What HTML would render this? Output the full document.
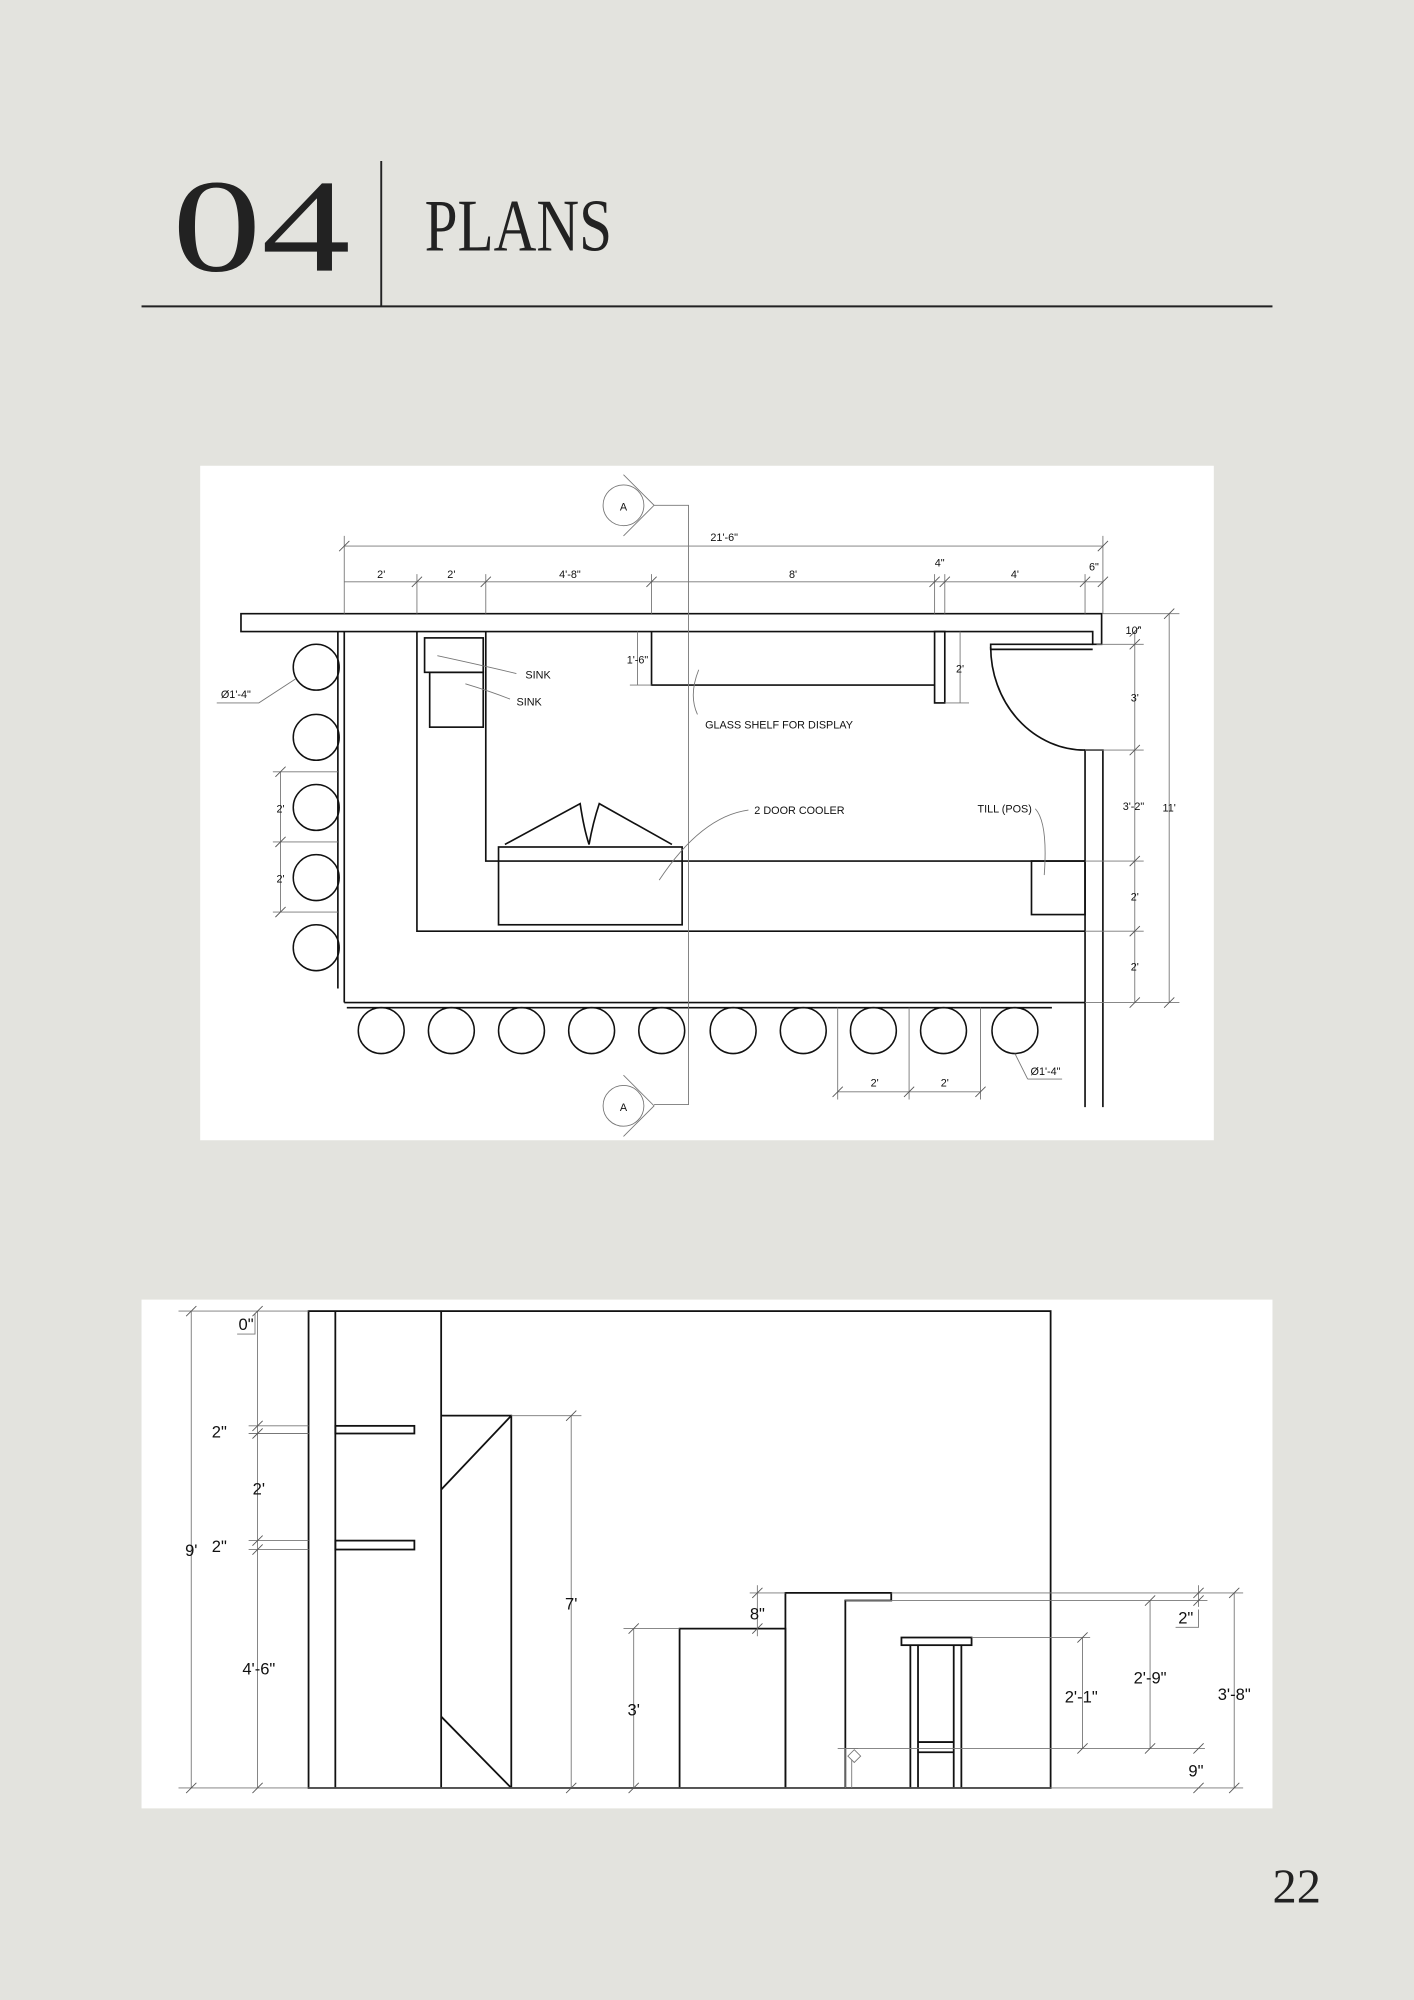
<!DOCTYPE html>
<html><head><meta charset="utf-8"><style>
html,body{margin:0;padding:0;background:#e3e3de;}
svg{display:block}
</style></head><body>
<svg width="1414" height="2000" viewBox="0 0 1109 1568" xmlns="http://www.w3.org/2000/svg" font-family="Liberation Sans, sans-serif">
<rect width="1109" height="1568" fill="#e3e3de"/>
<!-- header -->
<text x="135" y="212" font-family="Liberation Serif, serif" font-size="104" fill="#222" textLength="140" lengthAdjust="spacingAndGlyphs">04</text>
<line x1="299" y1="126" x2="299" y2="240" stroke="#222" stroke-width="1.5"/>
<line x1="111" y1="240" x2="998" y2="240" stroke="#222" stroke-width="1.5"/>
<text x="333" y="196" font-family="Liberation Serif, serif" font-size="58" fill="#222" textLength="147" lengthAdjust="spacingAndGlyphs">PLANS</text>
<text x="998" y="1492" font-family="Liberation Serif, serif" font-size="38" fill="#222">22</text>

<!-- plan panel -->
<rect x="157" y="365" width="795" height="529" fill="#fff"/>
<g stroke="#111" stroke-width="1.3" fill="none">
<path d="M189 481 H864 V505 H857 V495 H189 Z"/>
<path d="M857 505 H777 V509 H857"/>
<line x1="270" y1="495" x2="270" y2="786"/>
<line x1="265" y1="495" x2="265" y2="775"/>
<line x1="270" y1="786" x2="851" y2="786"/>
<line x1="272" y1="790" x2="825" y2="790"/>
<path d="M851 868 V588 H865 V868"/>
<path d="M327 495 V730 H851"/>
<path d="M381 495 V675 H851"/>
<rect x="333" y="500" width="46" height="27"/>
<rect x="337" y="527" width="42" height="43"/>
<path d="M511 495 V537 H733"/>
<rect x="733" y="495" width="8" height="56"/>
<path d="M777 507 A74 81 0 0 0 851 588"/>
<rect x="391" y="664" width="144" height="61"/>
<path d="M396 662 L455 630 Q458 650 462 662 Q465 645 470 630 L527 662"/>
<rect x="809" y="675" width="42" height="42"/>
<g stroke-width="1.2">
<circle cx="248" cy="523" r="18"/><circle cx="248" cy="578" r="18"/><circle cx="248" cy="633" r="18"/><circle cx="248" cy="688" r="18"/><circle cx="248" cy="743" r="18"/>
<circle cx="299" cy="808" r="18"/><circle cx="354" cy="808" r="18"/><circle cx="409" cy="808" r="18"/><circle cx="464" cy="808" r="18"/><circle cx="519" cy="808" r="18"/><circle cx="575" cy="808" r="18"/><circle cx="630" cy="808" r="18"/><circle cx="685" cy="808" r="18"/><circle cx="740" cy="808" r="18"/><circle cx="796" cy="808" r="18"/>
</g>
</g>
<!-- thin lines -->
<g stroke="#777" stroke-width="0.7" fill="none">
<path d="M513 396 H540 V866 H513"/>
<circle cx="489" cy="396" r="16"/><path d="M489 372 L513 396 L489 420"/>
<circle cx="489" cy="867" r="16"/><path d="M489 843 L513 867 L489 891"/>
<line x1="270" y1="428" x2="865" y2="428"/>
<line x1="270" y1="456" x2="865" y2="456"/>
<path d="M270 420 V481 M327 450 V481 M381 450 V481 M511 450 V481 M733 450 V481 M741 450 V481 M851 450 V481 M865 420 V481"/>
<line x1="890" y1="495" x2="890" y2="786"/>
<line x1="917" y1="481" x2="917" y2="786"/>
<path d="M865 481 H925 M860 505 H897 M851 588 H897 M851 675 H897 M851 730 H897 M851 786 H925"/>
<line x1="220" y1="605" x2="220" y2="715"/>
<path d="M214 605 H265 M214 660 H265 M214 715 H265"/>
<line x1="657" y1="856" x2="769" y2="856"/>
<path d="M657 790 V862 M713 790 V862 M769 790 V862"/>
<line x1="500" y1="495" x2="500" y2="537"/><path d="M494 537 H511"/>
<line x1="753" y1="495" x2="753" y2="551"/><path d="M741 551 H760"/>
<path d="M170 551 H203 L232 532"/>
<path d="M806 846 H833 M806 846 L796 826"/>
<path d="M405 528 Q380 522 343 514 M400 548 Q385 542 365 536 M547 560 Q540 545 548 525 M587 635 Q550 640 517 690 M812 634 Q822 645 819 686"/>
<g stroke="#555">
<path d="M266 432 L274 424 M323 460 L331 452 M377 460 L385 452 M507 460 L515 452 M729 460 L737 452 M737 460 L745 452 M847 460 L855 452 M861 432 L869 424 M861 460 L869 452"/>
<path d="M886 499 L894 491 M886 509 L894 501 M886 592 L894 584 M886 679 L894 671 M886 734 L894 726 M886 790 L894 782 M913 485 L921 477 M913 790 L921 782"/>
<path d="M216 609 L224 601 M216 664 L224 656 M216 719 L224 711 M653 860 L661 852 M709 860 L717 852 M765 860 L773 852"/>
</g>
</g>
<g font-size="8.5" fill="#111" text-anchor="middle">
<text x="568" y="424">21'-6"</text>
<text x="299" y="453">2'</text><text x="354" y="453">2'</text><text x="447" y="453">4'-8"</text><text x="622" y="453">8'</text>
<text x="737" y="444">4"</text><text x="796" y="453">4'</text><text x="858" y="447">6"</text>
<text x="889" y="497">10"</text><text x="890" y="550">3'</text><text x="889" y="635">3'-2"</text><text x="917" y="636">11'</text>
<text x="890" y="706">2'</text><text x="890" y="761">2'</text>
<text x="220" y="637">2'</text><text x="220" y="692">2'</text>
<text x="686" y="852">2'</text><text x="741" y="852">2'</text>
<text x="185" y="547">Ø1'-4"</text><text x="820" y="843">Ø1'-4"</text>
<text x="489" y="400">A</text><text x="489" y="871">A</text>
<text x="500" y="520">1'-6"</text><text x="753" y="527">2'</text>
<text x="422" y="532">SINK</text><text x="415" y="553">SINK</text>
<text x="611" y="571">GLASS SHELF FOR DISPLAY</text>
<text x="627" y="638">2 DOOR COOLER</text>
<text x="788" y="637">TILL (POS)</text>
</g>

<!-- elevation panel -->
<rect x="111" y="1019" width="887" height="399" fill="#fff"/>
<g stroke="#111" stroke-width="1.4" fill="none">
<rect x="242" y="1028" width="582" height="374"/>
<line x1="263" y1="1028" x2="263" y2="1402"/>
<line x1="346" y1="1028" x2="346" y2="1402"/>
<path d="M346 1110 H401 V1402 M401 1110 L346 1168 M346 1346 L401 1402"/>
<rect x="263" y="1118" width="62" height="6"/>
<rect x="263" y="1208" width="62" height="7"/>
<path d="M533 1402 V1277 H616 V1402"/>
<path d="M616 1402 V1249 H699 V1255 H663 V1402"/>
<rect x="707" y="1284" width="55" height="6"/>
<path d="M714 1290 V1402 M720 1290 V1402 M748 1290 V1402 M754 1290 V1402 M720 1366 H748 M720 1374 H748"/>
</g>
<g stroke="#777" stroke-width="0.7" fill="none">
<line x1="150" y1="1028" x2="150" y2="1402"/>
<line x1="202" y1="1028" x2="202" y2="1402"/>
<path d="M140 1028 H242 M140 1402 H242 M195 1118 H242 M195 1124 H242 M195 1208 H242 M195 1215 H242"/>
<path d="M186 1046 H200 V1030"/>
<line x1="448" y1="1110" x2="448" y2="1402"/><path d="M401 1110 H456"/>
<line x1="497" y1="1277" x2="497" y2="1402"/><path d="M489 1277 H533"/>
<line x1="594" y1="1243" x2="594" y2="1283"/><path d="M588 1249 H616"/>
<path d="M699 1249 H975 M663 1255 H947 M762 1284 H855 M657 1371 H945 M242 1402 H975"/>
<line x1="849" y1="1284" x2="849" y2="1371"/>
<line x1="902" y1="1255" x2="902" y2="1371"/>
<line x1="940" y1="1243" x2="940" y2="1260"/>
<line x1="968" y1="1249" x2="968" y2="1402"/>
<path d="M922 1276 H940 V1262"/>
<path d="M663 1371 H673 M663 1371 V1402 M668 1380 V1402"/>
<path d="M670 1372 L675 1377 L670 1382 L665 1377 Z"/>
<g stroke="#555">
<path d="M146 1032 L154 1024 M146 1406 L154 1398 M198 1032 L206 1024 M198 1122 L206 1114 M198 1128 L206 1120 M198 1212 L206 1204 M198 1219 L206 1211 M198 1406 L206 1398"/>
<path d="M444 1114 L452 1106 M444 1406 L452 1398 M493 1281 L501 1273 M493 1406 L501 1398 M590 1253 L598 1245 M590 1281 L598 1273"/>
<path d="M845 1288 L853 1280 M845 1375 L853 1367 M898 1259 L906 1251 M898 1375 L906 1367 M936 1253 L944 1245 M936 1259 L944 1251 M936 1375 L944 1367 M936 1406 L944 1398 M964 1253 L972 1245 M964 1406 L972 1398"/>
</g>
</g>
<g font-size="13" fill="#111" text-anchor="middle">
<text x="150" y="1220">9'</text>
<text x="193" y="1043">0"</text>
<text x="172" y="1127">2"</text><text x="203" y="1172">2'</text><text x="172" y="1217">2"</text>
<text x="203" y="1313">4'-6"</text>
<text x="448" y="1262">7'</text><text x="497" y="1345">3'</text><text x="594" y="1270">8"</text>
<text x="848" y="1335">2'-1"</text><text x="902" y="1320">2'-9"</text><text x="930" y="1273">2"</text>
<text x="938" y="1393">9"</text><text x="968" y="1333">3'-8"</text>
</g>
</svg>
</body></html>
